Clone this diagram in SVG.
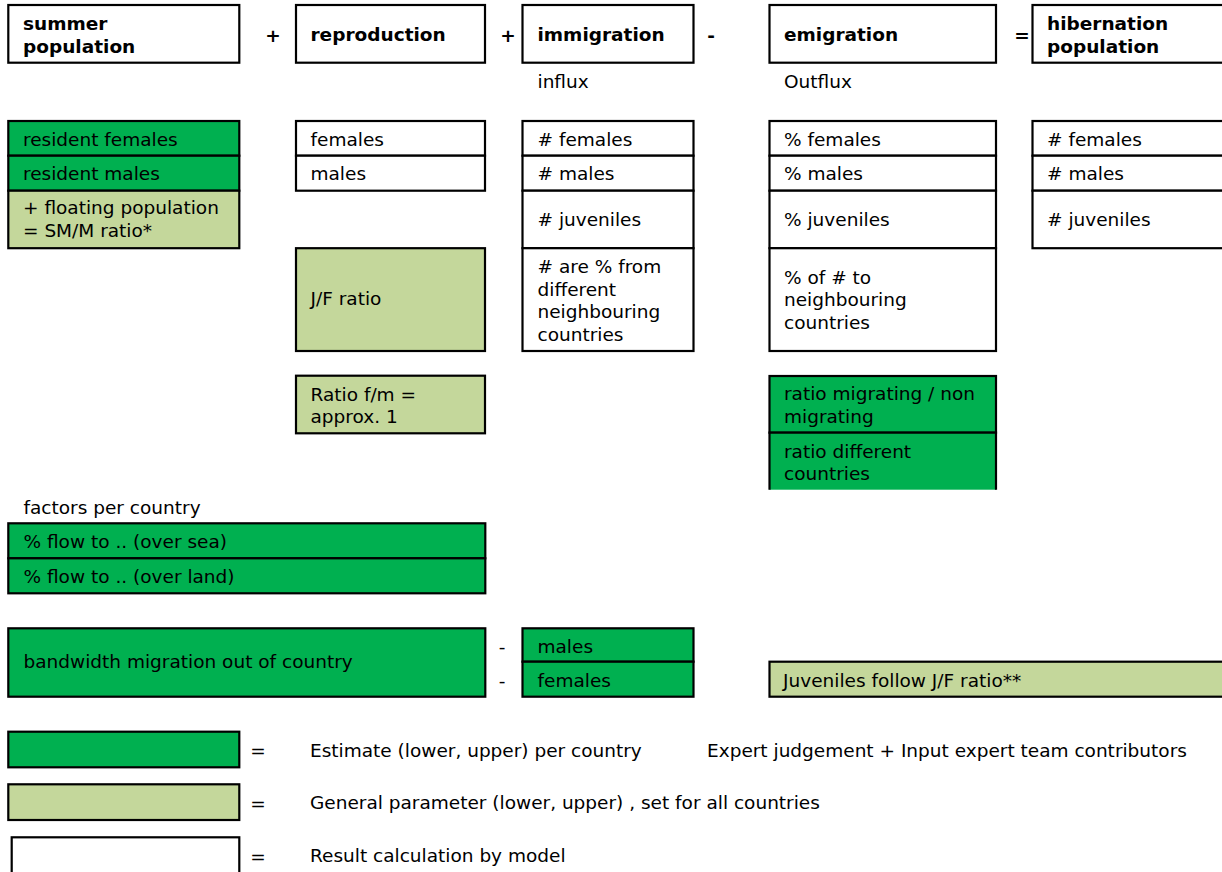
<svg xmlns="http://www.w3.org/2000/svg" width="1222" height="872" viewBox="0 0 1222 872">
<style>
text{font-family:"DejaVu Sans",Verdana,sans-serif;font-size:18.5px;fill:#000}
.b{font-weight:bold}
.m{text-anchor:middle}
.w{fill:#ffffff;stroke:#000;stroke-width:2.2}
.g{fill:#00b050;stroke:#000;stroke-width:2.2}
.l{fill:#c4d79b;stroke:#000;stroke-width:2.2}
.e{fill:none;stroke:#000;stroke-width:2.2}
</style>
<rect x="0" y="0" width="1222" height="872" fill="#fff"/>

<g id="summer-population">
<rect class="w" x="8.3" y="5" width="231" height="57.7"/>
<text class="b" x="23" y="30">summer</text>
<text class="b" x="23" y="53">population</text>
</g>
<g id="reproduction">
<rect class="w" x="296" y="5" width="189" height="57.7"/>
<text class="b" x="310.5" y="40.5">reproduction</text>
</g>
<g id="immigration">
<rect class="w" x="522.5" y="5" width="171" height="57.7"/>
<text class="b" x="537.5" y="40.5">immigration</text>
<text x="537.5" y="88">influx</text>
</g>
<g id="emigration">
<rect class="w" x="769.5" y="5" width="226.5" height="57.7"/>
<text class="b" x="784" y="40.5">emigration</text>
<text x="784" y="88">Outflux</text>
</g>
<g id="hibernation-population">
<rect class="w" x="1032.5" y="5" width="200" height="57.7"/>
<text class="b" x="1047" y="30">hibernation</text>
<text class="b" x="1047" y="53">population</text>
</g>

<g id="connectors">
<text class="b m" x="273" y="41.5">+</text>
<text class="b m" x="508" y="41.5">+</text>
<text class="b m" x="711" y="41.5">-</text>
<text class="b m" x="1022" y="41.5">=</text>
<text class="m" x="502" y="653">-</text>
<text class="m" x="502" y="686.5">-</text>
</g>

<g id="summer-rows">
<rect class="g" x="8.3" y="121" width="231" height="34.7"/>
<text x="23" y="145.7">resident females</text>
<rect class="g" x="8.3" y="155.7" width="231" height="35"/>
<text x="23" y="180">resident males</text>
<rect class="l" x="8.3" y="190.7" width="231" height="57.5"/>
<text x="23" y="214">+ floating population</text>
<text x="23" y="237">= SM/M ratio*</text>
</g>

<g id="reproduction-rows">
<rect class="w" x="296" y="121" width="189" height="34.7"/>
<text x="310.5" y="145.7">females</text>
<rect class="w" x="296" y="155.7" width="189" height="35"/>
<text x="310.5" y="180">males</text>
</g>
<g id="jf-ratio">
<rect class="l" x="296" y="248.2" width="189" height="102.8"/>
<text x="310.5" y="305">J/F ratio</text>
</g>
<g id="ratio-fm">
<rect class="l" x="296" y="375.7" width="189" height="57.6"/>
<text x="310.5" y="400.5">Ratio f/m =</text>
<text x="310.5" y="423">approx. 1</text>
</g>

<g id="immigration-rows">
<rect class="w" x="522.5" y="121" width="171" height="34.7"/>
<text x="537.5" y="145.7"># females</text>
<rect class="w" x="522.5" y="155.7" width="171" height="35"/>
<text x="537.5" y="180"># males</text>
<rect class="w" x="522.5" y="190.7" width="171" height="57.5"/>
<text x="537.5" y="225.5"># juveniles</text>
<rect class="w" x="522.5" y="248.2" width="171" height="102.8"/>
<text x="537.5" y="273"># are % from</text>
<text x="537.5" y="295.5">different</text>
<text x="537.5" y="318">neighbouring</text>
<text x="537.5" y="340.5">countries</text>
</g>

<g id="emigration-rows">
<rect class="w" x="769.5" y="121" width="226.5" height="34.7"/>
<text x="784" y="145.7">% females</text>
<rect class="w" x="769.5" y="155.7" width="226.5" height="35"/>
<text x="784" y="180">% males</text>
<rect class="w" x="769.5" y="190.7" width="226.5" height="57.5"/>
<text x="784" y="225.5">% juveniles</text>
<rect class="w" x="769.5" y="248.2" width="226.5" height="102.8"/>
<text x="784" y="283.5">% of # to</text>
<text x="784" y="306">neighbouring</text>
<text x="784" y="328.5">countries</text>
</g>
<g id="emigration-ratios">
<rect class="g" x="769.5" y="376" width="226.5" height="56.7"/>
<text x="784" y="400">ratio migrating / non</text>
<text x="784" y="422.5">migrating</text>
<rect x="769.5" y="432.7" width="226.5" height="57" fill="#00b050"/>
<path class="e" d="M769.5,489.7 V432.7 H996 V489.7"/>
<text x="784" y="457.5">ratio different</text>
<text x="784" y="480">countries</text>
</g>

<g id="hibernation-rows">
<rect class="w" x="1032.5" y="121" width="200" height="34.7"/>
<text x="1047" y="145.7"># females</text>
<rect class="w" x="1032.5" y="155.7" width="200" height="35"/>
<text x="1047" y="180"># males</text>
<rect class="w" x="1032.5" y="190.7" width="200" height="57.5"/>
<text x="1047" y="225.5"># juveniles</text>
</g>

<g id="factors-per-country">
<text x="23.5" y="514">factors per country</text>
<rect class="g" x="8.3" y="523.3" width="477" height="35"/>
<text x="23.5" y="547.5">% flow to .. (over sea)</text>
<rect class="g" x="8.3" y="558.3" width="477" height="35"/>
<text x="23.5" y="582.5">% flow to .. (over land)</text>
</g>

<g id="bandwidth">
<rect class="g" x="8.3" y="628.3" width="477" height="68.4"/>
<text x="23.5" y="668">bandwidth migration out of country</text>
</g>
<g id="bandwidth-sexes">
<rect class="g" x="522.5" y="628.3" width="171" height="33.4"/>
<text x="537.5" y="653">males</text>
<rect class="g" x="522.5" y="661.7" width="171" height="35"/>
<text x="537.5" y="686.5">females</text>
</g>
<g id="juveniles-follow">
<rect class="l" x="769.5" y="661.7" width="465" height="35"/>
<text x="783" y="687">Juveniles follow J/F ratio**</text>
</g>

<g id="legend">
<rect class="g" x="8.3" y="731.7" width="231" height="35.6"/>
<text class="m" x="258" y="757">=</text>
<text x="310" y="756.5">Estimate (lower, upper) per country</text>
<text x="707" y="756.5">Expert judgement + Input expert team contributors</text>
<rect class="l" x="8.3" y="784.3" width="231" height="35.7"/>
<text class="m" x="258" y="809.5">=</text>
<text x="310" y="809">General parameter (lower, upper) , set for all countries</text>
<rect class="w" x="11.7" y="837.3" width="227.6" height="50"/>
<text class="m" x="258" y="862.5">=</text>
<text x="310" y="862">Result calculation by model</text>
</g>
</svg>
